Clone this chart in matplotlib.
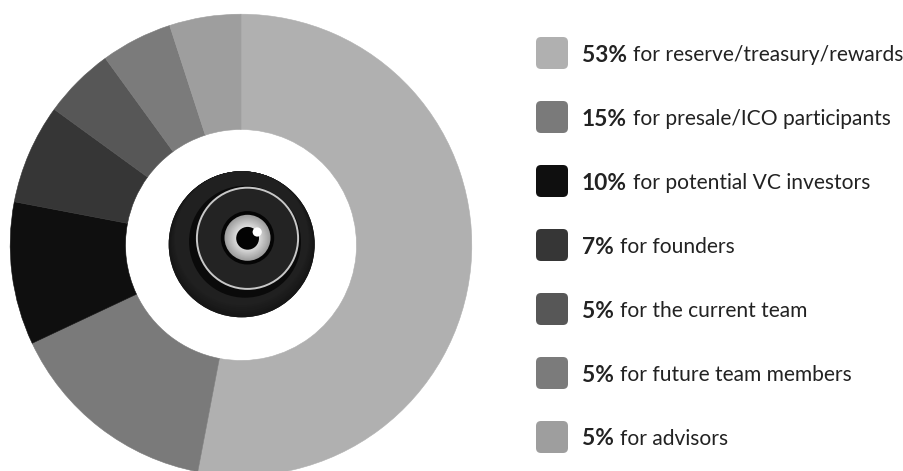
#!/usr/bin/python3
"""Token allocation donut with a lens badge in the hole and a swatch legend."""

import matplotlib
matplotlib.use('Agg')
import matplotlib.pyplot as plt
import numpy as np
from matplotlib.patches import Circle, FancyBboxPatch

shares = [53, 15, 10, 7, 5, 5, 5]
descriptions = [
    'for reserve/treasury/rewards',
    'for presale/ICO participants',
    'for potential VC investors',
    'for founders',
    'for the current team',
    'for future team members',
    'for advisors',
]
colors = ['#b0b0b0', '#7a7a7a', '#0f0f0f', '#363636', '#575757', '#7b7b7b', '#9e9e9e']

WIDTH, HEIGHT = 904, 471
FONT = 'Lato'
FONT_SIZE = 15.1
BOLD_SIZE = 16.4
TEXT_COLOR = '#222222'


def py(y):
    """Convert a pixel row counted from the top into axes y."""
    return HEIGHT - y


def circle(ax, x, y, r, color, z=3, **kwargs):
    ax.add_patch(Circle((x, py(y)), r, facecolor=color, edgecolor='none', zorder=z, **kwargs))


def draw_donut(ax):
    wedges, _ = ax.pie(shares, colors=colors, startangle=90, counterclock=False,
                       center=(241, py(245)), radius=230.8,
                       wedgeprops={'width': 115.3})
    # a hairline edge in the wedge colour hides the seams between slices
    for wedge in wedges:
        wedge.set_edgecolor(wedge.get_facecolor())
        wedge.set_linewidth(0.4)


def draw_badge(ax):
    # body of the badge, darkening towards the lower rim
    circle(ax, 241.7, 244.3, 73, '#111111')
    for offset, g in zip(np.linspace(0, 6, 7), np.linspace(0.085, 0.125, 7)):
        circle(ax, 241.7, 244.3 - offset, 73 - offset, (g, g, g))
    # shadow under the ring
    circle(ax, 245, 241.7, 56, '#0a0a0a')
    # ring plate
    ax.add_patch(Circle((247.5, py(238.3)), 50.6, facecolor='#232323',
                        edgecolor='#c8c8c8', linewidth=1.4, zorder=3))
    # eye socket and iris
    circle(ax, 247.5, 237.8, 26.7, '#050505')
    for r, g in zip(np.linspace(23, 12, 12), np.linspace(0.62, 0.86, 12)):
        circle(ax, 247.5, 237.8, r, (g, g, g))
    circle(ax, 247.6, 238.3, 11.4, '#030303')
    circle(ax, 257.2, 232, 4.6, '#ffffff')


def draw_legend(ax, fig):
    renderer = fig.canvas.get_renderer()
    for i, (share, text, color) in enumerate(zip(shares, descriptions, colors)):
        cy = 53 + 64 * i
        ax.add_patch(FancyBboxPatch((540, py(cy) - 12), 24, 24,
                                    boxstyle='round,pad=4,rounding_size=5',
                                    facecolor=color, edgecolor='none'))
        # the percentage is bold, so the description starts where it ends
        bold = ax.text(582, py(cy), f'{share}%', fontsize=BOLD_SIZE, fontfamily=FONT,
                       fontweight='bold', color=TEXT_COLOR, va='center_baseline')
        right = bold.get_window_extent(renderer).x1
        ax.text(right + 6, py(cy), text, fontsize=FONT_SIZE, fontfamily=FONT,
                color=TEXT_COLOR, va='center_baseline')


def main():
    fig = plt.figure(figsize=(WIDTH / 100, HEIGHT / 100), dpi=100)
    ax = fig.add_axes([0, 0, 1, 1])

    draw_donut(ax)
    ax.set_xlim(0, WIDTH)
    ax.set_ylim(0, HEIGHT)
    ax.set_aspect('equal')
    ax.axis('off')

    draw_badge(ax)
    draw_legend(ax, fig)

    fig.savefig('out.png', dpi=100)
    plt.close(fig)


if __name__ == '__main__':
    main()
